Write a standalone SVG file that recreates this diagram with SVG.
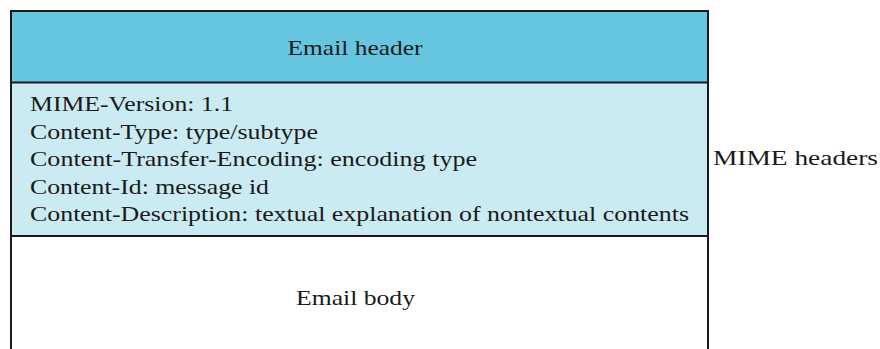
<svg xmlns="http://www.w3.org/2000/svg" width="880" height="349" viewBox="0 0 880 349">
<style>
text{font-family:"Liberation Serif","DejaVu Serif",serif;font-size:21px;fill:#1a1a1a}
.c{text-anchor:middle}
.edge{stroke:#1a1a1a;stroke-width:2;fill:none}
</style>
<rect width="880" height="349" fill="#ffffff"/>
<g id="email-header">
<rect x="11" y="11" width="697" height="71.5" fill="#66c5df"/>
<text class="c" x="355" y="55" textLength="135" lengthAdjust="spacingAndGlyphs">Email header</text>
</g>
<g id="mime-headers-block">
<rect x="11" y="82.5" width="697" height="153.5" fill="#cbebf2"/>
<text x="30" y="111" textLength="203" lengthAdjust="spacingAndGlyphs">MIME-Version: 1.1</text>
<text x="30" y="139" textLength="288" lengthAdjust="spacingAndGlyphs">Content-Type: type/subtype</text>
<text x="30" y="166" textLength="447" lengthAdjust="spacingAndGlyphs">Content-Transfer-Encoding: encoding type</text>
<text x="30" y="194" textLength="239" lengthAdjust="spacingAndGlyphs">Content-Id: message id</text>
<text x="30" y="221" textLength="659" lengthAdjust="spacingAndGlyphs">Content-Description: textual explanation of nontextual contents</text>
</g>
<g id="email-body">
<text class="c" x="355.5" y="305" textLength="119" lengthAdjust="spacingAndGlyphs">Email body</text>
</g>
<g id="mime-label">
<text x="713" y="165" textLength="165" lengthAdjust="spacingAndGlyphs">MIME headers</text>
</g>
<g id="connectors">
<path class="edge" d="M11 349 V11 H708 V349"/>
<line class="edge" x1="11" y1="82.5" x2="708" y2="82.5"/>
<line class="edge" x1="11" y1="236" x2="708" y2="236"/>
</g>
</svg>
